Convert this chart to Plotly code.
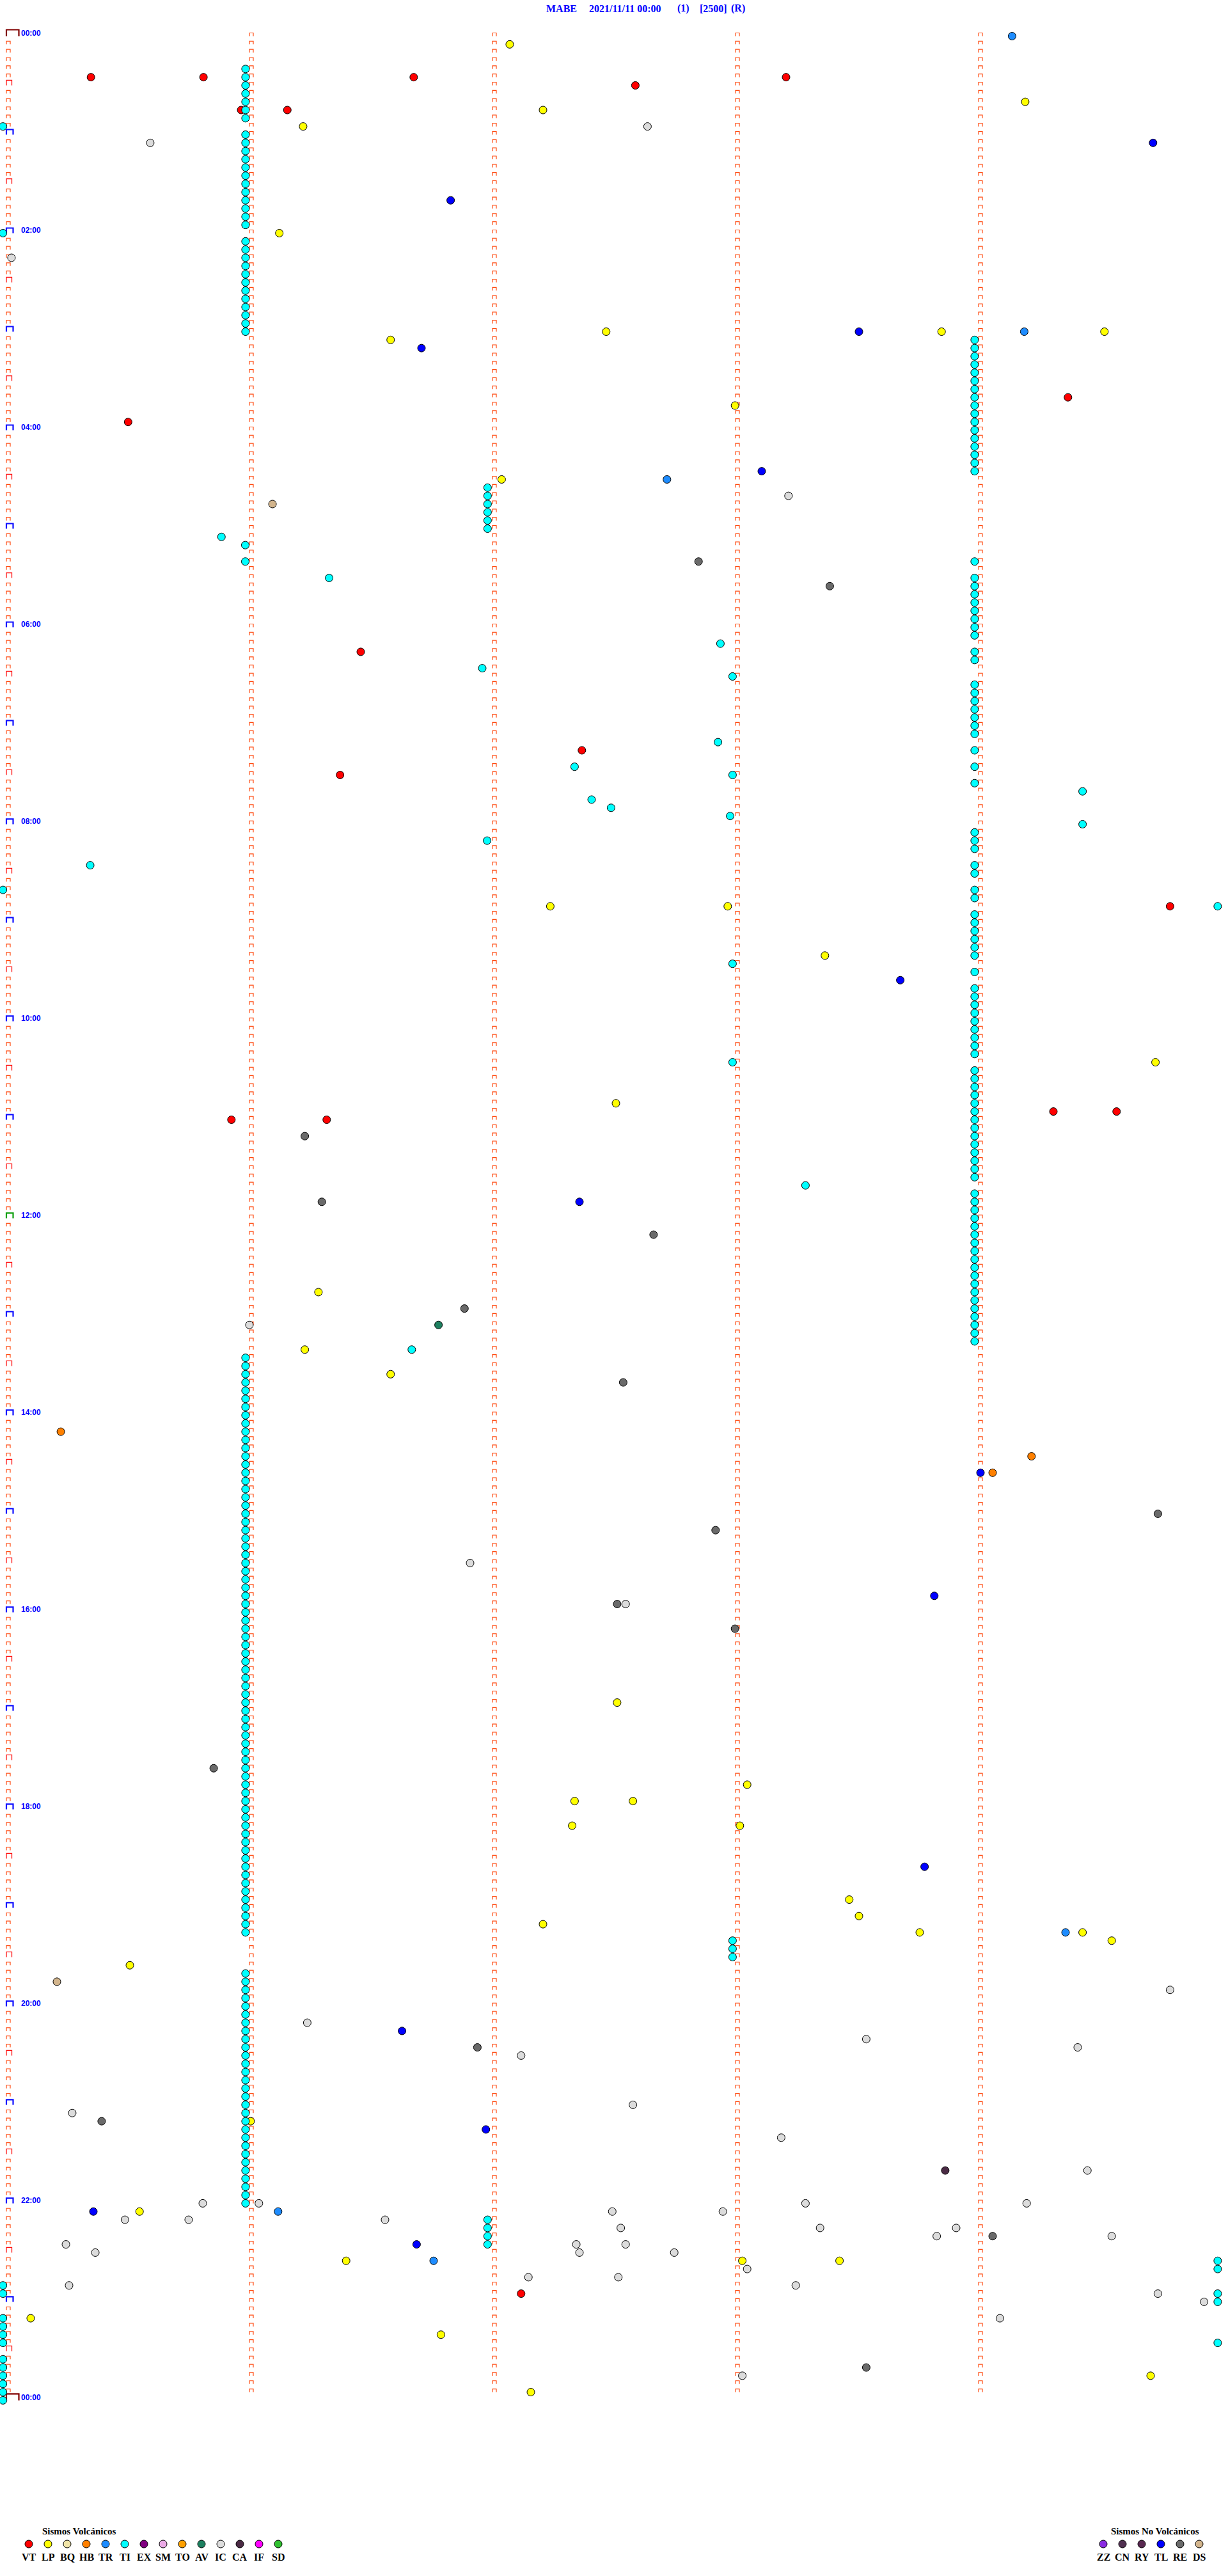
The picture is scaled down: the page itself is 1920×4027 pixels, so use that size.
import plotly.graph_objects as go

# ---------------- data ----------------
N_ROWS = 288                      # 5-minute lines in 24 h
MINUTE_COLS = [0, 1, 2, 3, 4]     # minute marks on each line
HOUR_ROWS = [0, 24, 48, 72, 96, 120, 144, 168, 192, 216, 240, 264, 288]
HOUR_LABELS = ["00:00", "02:00", "04:00", "06:00", "08:00", "10:00", "12:00",
               "14:00", "16:00", "18:00", "20:00", "22:00", "00:00"]

# events: line index (5-min row) and minute offset inside the line
VT_ROW = [5, 5, 5, 6, 5, 9, 9, 44, 47, 75, 87, 90, 106, 132, 132, 131, 131, 275]
VT_MIN = [0.34, 0.803, 1.668, 2.58, 3.20, 0.958, 1.148, 4.36, 0.493, 1.45, 2.36, 1.365,
          4.78, 0.918, 1.31, 4.30, 4.56, 2.11]

LP_ROW = [1, 9, 8, 11, 24, 37, 36, 36, 36, 45, 54, 106, 106, 112, 125, 130, 153, 160, 163,
          203, 213, 215, 215, 218, 218, 227, 229, 230, 231, 231, 232, 235, 254, 265, 271,
          271, 271, 278, 280, 285, 287]
LP_MIN = [2.063, 2.20, 4.184, 1.213, 1.115, 1.573, 2.46, 3.84, 4.51, 2.99, 2.03, 2.23, 2.96,
          3.36, 4.72, 2.50, 1.276, 1.22, 1.573, 2.505, 3.04, 2.33, 2.57, 2.32, 3.01, 3.46,
          3.50, 2.20, 3.75, 4.42, 4.54, 0.50, 0.997, 0.54, 1.39, 3.02, 3.42, 0.092, 1.78,
          4.70, 2.15]

HB_ROW = [170, 173, 175]
HB_MIN = [0.216, 4.21, 4.05]

TR_ROW = [0, 36, 54, 231, 265, 271]
TR_MIN = [4.13, 4.18, 2.71, 4.35, 1.11, 1.75]

# TI sequences: each run of lines shares the same minute offset
TI_RUN_ROWS = [
    [4, 5, 6, 7, 8, 9, 10],
    [12, 13, 14, 15, 16, 17, 18, 19, 20, 21, 22, 23],
    [25, 26, 27, 28, 29, 30, 31, 32, 33, 34, 35, 36],
    [37, 38, 39, 40, 41, 42, 43, 44, 45, 46, 47, 48, 49, 50, 51, 52, 53],
    [55, 56, 57, 58, 59, 60],
    [64, 66, 67, 68, 69, 70, 71, 72, 73, 75, 76, 79, 80, 81, 82, 83, 84, 85, 87, 89, 91,
     97, 98, 99, 101, 102, 104, 105, 107, 108, 109, 110, 111, 112, 114,
     116, 117, 118, 119, 120, 121, 122, 123, 124,
     126, 127, 128, 129, 130, 131, 132, 133, 134, 135, 136, 137, 138, 139,
     141, 142, 143, 144, 145, 146, 147, 148, 149, 150, 151, 152, 153, 154, 155, 156, 157,
     158, 159],
    [161, 162, 163, 164, 165, 166, 167, 168, 169, 170, 171, 172, 173, 174, 175, 176, 177,
     178, 179, 180, 181, 182, 183, 184, 185, 186, 187, 188, 189, 190, 191, 192, 193, 194,
     195, 196, 197, 198, 199, 200, 201, 202, 203, 204, 205, 206, 207, 208, 209, 210, 211,
     212, 213, 214, 215, 216, 217, 218, 219, 220, 221, 222, 223, 224, 225, 226, 227, 228,
     229, 230, 231],
    [236, 237, 238, 239, 240, 241, 242, 243, 244, 245, 246, 247, 248, 249, 250, 251, 252,
     253, 254, 255, 256, 257, 258, 259, 260, 261, 262, 263, 264],
    [266, 267, 268, 269],
    [11, 24, 104, 274, 275, 278, 279, 280, 281, 283, 284, 285, 286, 287, 288],
    [106, 271, 272, 275, 276, 281],
]
TI_RUN_MIN = [0.976, 0.976, 0.976, 3.976, 1.972, 3.976, 0.976, 0.976, 1.972, -0.022, 4.976]

TI_ROW = [61, 62, 64, 66, 74, 77, 78, 86, 89, 90, 92, 93, 94, 95, 96, 98, 101, 113,
          125, 140, 160, 232, 233, 234]
TI_MIN = [0.877, 0.975, 0.975, 1.32, 2.93, 1.95, 2.98, 2.92, 2.33, 2.98, 4.42, 2.40, 2.48,
          2.97, 4.42, 1.97, 0.337, 2.98, 2.98, 3.28, 1.66, 2.98, 2.98, 2.98]

AV_ROW = [157]
AV_MIN = [1.77]

IC_ROW = [11, 13, 27, 56, 157, 186, 191, 238, 242, 244, 245, 246, 252, 253, 256, 260, 264,
          264, 264, 264, 265, 265, 266, 266, 266, 267, 267, 267, 268, 268, 269, 270, 269,
          270, 269, 270, 272, 273, 273, 274, 274, 275, 276, 278, 285]
IC_MIN = [2.63, 0.584, 0.013, 3.21, 0.992, 1.90, 2.54, 4.78, 1.23, 3.53, 4.40, 2.11, 2.57,
          0.263, 3.18, 4.44, 0.80, 1.031, 3.28, 4.19, 2.485, 2.94, 0.742, 0.48, 1.55, 2.52,
          3.34, 3.90, 3.82, 4.54, 0.237, 0.358, 2.337, 2.35, 2.54, 2.74, 3.04, 2.14, 2.51,
          0.25, 3.24, 4.73, 4.92, 4.08, 3.02]

CA_ROW = [260]
CA_MIN = [3.855]

TL_ROW = [13, 20, 38, 36, 53, 115, 142, 175, 190, 223, 243, 255, 265, 269]
TL_MIN = [4.71, 1.82, 1.70, 3.50, 3.10, 3.67, 2.35, 4.0, 3.81, 3.77, 1.62, 1.965, 0.35, 1.68]

RE_ROW = [64, 67, 134, 142, 146, 155, 164, 180, 182, 191, 194, 211, 245, 254, 268, 284]
RE_MIN = [2.84, 3.38, 1.22, 1.29, 2.655, 1.877, 2.53, 4.73, 2.91, 2.505, 2.99, 0.845, 1.93,
          0.384, 4.05, 3.53]

DS_ROW = [57, 237]
DS_MIN = [1.087, 0.20]

VOLC_CODES = ["VT", "LP", "BQ", "HB", "TR", "TI", "EX", "SM", "TO", "AV", "IC", "CA", "IF", "SD"]
VOLC_COLORS = ["#FF0000", "#FFFF00", "#F0E4A8", "#FF8000", "#1E8CFF", "#00FFFF", "#800080",
               "#EAAAE6", "#FFA000", "#1E8060", "#DCDCDC", "#4A2A44", "#FF00FF", "#30C030"]
NOVOLC_CODES = ["ZZ", "CN", "RY", "TL", "RE", "DS"]
NOVOLC_COLORS = ["#8A2BE2", "#503050", "#582850", "#0000FF", "#6A6A6A", "#D2B48C"]

TITLE_PARTS = ["MABE", "2021/11/11 00:00", "(1)", "[2500]", "(R)"]

# ---------------- geometry (pixels) ----------------
W, H = 1920, 4027
X0, PX_MIN = 13.0, 380.0
Y0, PX_ROW = 56.5, 12.833


def dx(px):
    return px / PX_MIN


def dy(px):
    return px / PX_ROW


fig = go.Figure()


def bracket_trace(rows, cols, left, right, height, color, width):
    xs, ys = [], []
    for r in rows:
        for c in cols:
            xl, xr, yt = c + dx(left), c + dx(right), r - dy(height)
            xs += [xl, xl, xr, xr, None]
            ys += [r, yt, yt, r, None]
    fig.add_trace(go.Scatter(x=xs, y=ys, mode="lines", hoverinfo="skip",
                             line=dict(color=color, width=width), showlegend=False))


all_rows = list(range(N_ROWS))
col1_small = [r for r in all_rows if r % 6 != 0]
bracket_trace(all_rows, MINUTE_COLS[1:], -3, 3, 5, "#FF4A10", 1.2)
bracket_trace(col1_small, MINUTE_COLS[:1], -3, 3, 5, "#FF4A10", 1.2)
bracket_trace([r for r in all_rows if r % 12 == 6], [0], -3, 5.5, 8, "#FF1010", 1.3)
bracket_trace([r for r in all_rows if r % 12 == 0 and r not in (0, 144)], [0], -3, 7.5, 8, "#1010FF", 2.2)
bracket_trace([144], [0], -3, 7.5, 8, "#10A010", 2.2)
bracket_trace([0, N_ROWS], [0], -3, 16.5, 10, "#800000", 2.2)


def events(rows, mins, color):
    fig.add_trace(go.Scatter(x=mins, y=rows, mode="markers", hoverinfo="skip", showlegend=False,
                             marker=dict(size=12, color=color, line=dict(color="#000000", width=1))))


C = dict(zip(VOLC_CODES + NOVOLC_CODES, VOLC_COLORS + NOVOLC_COLORS))
events(VT_ROW, VT_MIN, C["VT"])
events(LP_ROW, LP_MIN, C["LP"])
events(HB_ROW, HB_MIN, C["HB"])
events(TR_ROW, TR_MIN, C["TR"])
ti_rows = [r for run in TI_RUN_ROWS for r in run] + TI_ROW
ti_mins = [m for run, m in zip(TI_RUN_ROWS, TI_RUN_MIN) for _ in run] + TI_MIN
events(ti_rows, ti_mins, C["TI"])
events(AV_ROW, AV_MIN, C["AV"])
events(IC_ROW, IC_MIN, C["IC"])
events(CA_ROW, CA_MIN, C["CA"])
events(TL_ROW, TL_MIN, C["TL"])
events(RE_ROW, RE_MIN, C["RE"])
events(DS_ROW, DS_MIN, C["DS"])

# hour labels
for r, lab in zip(HOUR_ROWS, HOUR_LABELS):
    fig.add_annotation(x=dx(19), y=r - dy(4.5), xref="x", yref="y", text="<b>%s</b>" % lab,
                       showarrow=False, xanchor="left", yanchor="middle", borderpad=0,
                       font=dict(family="Liberation Sans, Arial", size=12, color="#0000FF"))

# title (pixel overlay axes)
title_x = [853, 920, 1058, 1093, 1142]
for t, x in zip(TITLE_PARTS, title_x):
    fig.add_annotation(x=x, y=13, xref="x2", yref="y2", text="<b>%s</b>" % t, showarrow=False,
                       xanchor="left", yanchor="middle", borderpad=0,
                       font=dict(family="Liberation Serif, Times New Roman", size=16, color="#0000FF"))

# legend
lx_v = [45 + 30 * i for i in range(len(VOLC_CODES))]
lx_n = [1725 + 30 * i for i in range(len(NOVOLC_CODES))]
fig.add_trace(go.Scatter(x=lx_v + lx_n, y=[3977] * (len(lx_v) + len(lx_n)), xaxis="x2", yaxis="y2",
                         mode="markers", hoverinfo="skip", showlegend=False,
                         marker=dict(size=12, color=VOLC_COLORS + NOVOLC_COLORS,
                                     line=dict(color="#000000", width=1))))
for code, x in zip(VOLC_CODES + NOVOLC_CODES, lx_v + lx_n):
    fig.add_annotation(x=x, y=3997, xref="x2", yref="y2", text="<b>%s</b>" % code, showarrow=False,
                       xanchor="center", yanchor="middle", borderpad=0,
                       font=dict(family="Liberation Serif, Times New Roman", size=16, color="#000000"))
fig.add_annotation(x=124, y=3957, xref="x2", yref="y2", text="<b>Sismos Volcánicos</b>", showarrow=False,
                   xanchor="center", yanchor="middle", borderpad=0,
                   font=dict(family="Liberation Serif, Times New Roman", size=15, color="#000000"))
fig.add_annotation(x=1806, y=3957, xref="x2", yref="y2", text="<b>Sismos No Volcánicos</b>", showarrow=False,
                   xanchor="center", yanchor="middle", borderpad=0,
                   font=dict(family="Liberation Serif, Times New Roman", size=15, color="#000000"))

fig.update_layout(
    width=W, height=H, margin=dict(l=0, r=0, t=0, b=0),
    paper_bgcolor="white", plot_bgcolor="white",
    xaxis=dict(range=[-X0 / PX_MIN, (W - X0) / PX_MIN], visible=False, domain=[0, 1]),
    yaxis=dict(range=[(H - Y0) / PX_ROW, -Y0 / PX_ROW], visible=False, domain=[0, 1]),
    xaxis2=dict(range=[0, W], visible=False, overlaying="x", domain=[0, 1]),
    yaxis2=dict(range=[H, 0], visible=False, overlaying="y", domain=[0, 1]),
)

fig.write_html("out.html", config={"displayModeBar": False},
               post_script="document.body.style.margin='0';")
